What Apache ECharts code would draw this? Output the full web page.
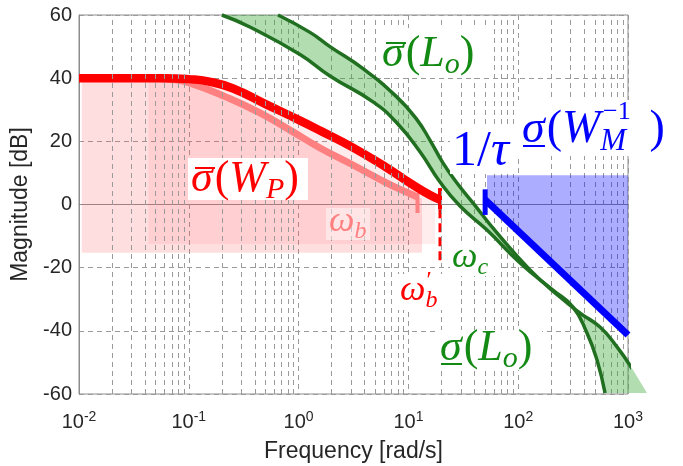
<!DOCTYPE html>
<html>
<head>
<meta charset="utf-8">
<title>Loop shaping bounds</title>
<script src="https://cdn.jsdelivr.net/npm/echarts@6.0.0/dist/echarts.min.js"></script>
<style>
  html, body { margin: 0; padding: 0; background: #fff; }
  #chart { width: 683px; height: 466px; }
</style>
</head>
<body>
<div id="chart"></div>
<script>
// performance weight, sigma-bar(W_P), bandwidth w'_b
const wpFreq = [0.01, 0.03, 0.06, 0.1, 0.15, 0.25, 0.5, 1.0, 1.57, 3.13, 6.38, 11.0, 15.7, 19.4];
const wpMag = [40, 40, 40, 39.7, 39, 36.8, 31.8, 26.8, 23.4, 18.0, 11.6, 6.2, 3.0, 1.5];
const wpEndFreq = [19.4, 19.4];
const wpEndMag = [5.2, -1.5];
const wpDashMag = [-1.5, -18.5];

// same weight at bandwidth w_b (lighter)
const wbFreq = [0.01, 0.04, 0.07, 0.1, 0.22, 0.445, 0.889, 1.57, 3.13, 6.38, 11.0, 12.1];
const wbMag = [40, 40, 39.6, 38.6, 34, 29, 23, 17.9, 12.5, 6.8, 3.0, 2.4];
const wbEndFreq = [12.1, 12.1];
const wbEndMag = [3.6, -2.7];

// pink shaded areas under the two weights
const shadeAFreq = [0.0106, 0.04, 0.07, 0.1, 0.22, 0.445, 0.889, 1.57, 3.13, 6.38, 11.0, 13.3];
const shadeAMag = [39.5, 39.5, 39.2, 38.4, 33.8, 28.8, 22.8, 17.7, 12.3, 6.6, 2.8, 2.0];
const shadeAFloor = -15.3;
const shadeBFreq = [0.043, 0.1, 0.15, 0.25, 0.5, 1.0, 1.57, 3.13, 6.38, 11.0, 15.7, 17.5];
const shadeBMag = [39.8, 39.5, 38.8, 36.6, 31.6, 26.6, 23.2, 17.8, 11.4, 6.0, 2.8, 2.2];
const shadeBFloor = -12.5;

// loop gain singular values
const loUpFreq = [0.649, 1.27, 1.93, 3.86, 7.87, 12.0, 15.7, 20.7, 27.7, 38.7, 64.1, 128, 240, 366, 556, 794, 1111, 1490];
const loUpMag = [60, 54.5, 50.0, 43.0, 34.0, 26.8, 20.4, 13.1, 6.8, 0.5, -9.0, -20.7, -29.3, -34.4, -38.8, -45.1, -52.4, -59.7];
const loLowFreq = [0.2, 0.36, 1.03, 1.93, 4.76, 7.87, 12.8, 19.4, 29.5, 52, 104, 207, 316, 423, 522, 618];
const loLowMag = [60, 56.2, 47.5, 40.7, 32.5, 25.8, 16.6, 7.1, -0.5, -8.1, -18.5, -27.1, -32.5, -40.7, -49.2, -59.7];

// uncertainty weight, sigma(W_M^-1)
const wmFreq = [50, 1000];
const wmMag = [1.5, -41.3];
const tauFreq = [50, 50];
const tauMag = [4.8, -3.3];
const wmShadeFreq = [52, 1000, 1000, 52];
const wmShadeMag = [9.3, 9.3, -41.3, 0.9];

// axes
const xTickExp = [-2, -1, 0, 1, 2, 3];
const yTicks = [-60, -40, -20, 0, 20, 40, 60];
const minorMult = [2, 3, 4, 5, 6, 7, 8, 9];

const SANS = "'Liberation Sans', Arial, sans-serif";
const SERIF = "'Liberation Serif', 'DejaVu Serif', serif";
const TXT = "#262626";
const GRID = { color: "#9a9a9a", width: 1, type: [5, 4] };
const GREEN_TXT = "#138a13";

const zip = (xs, ys) => xs.map((x, i) => [x, ys[i]]);

const minorLines = [];
xTickExp.slice(0, -1).forEach((e) => {
  minorMult.forEach((m) => minorLines.push({ xAxis: m * Math.pow(10, e) }));
});

function polygonSeries(points, fill, z) {
  return {
    type: "custom",
    z,
    clip: false,
    silent: true,
    data: [[1, 0]],
    renderItem: (params, api) => ({
      type: "polygon",
      shape: { points: points.map((p) => api.coord(p)) },
      style: { fill },
    }),
  };
}

function lineSeries(data, color, width, z, extra) {
  return Object.assign(
    {
      type: "line",
      data,
      z,
      clip: false,
      silent: true,
      symbol: "none",
      smooth: 0.5,
      lineStyle: { color, width },
    },
    extra || {}
  );
}

const shadeA = zip(shadeAFreq, shadeAMag).concat([
  [shadeAFreq[shadeAFreq.length - 1], shadeAFloor],
  [shadeAFreq[0], shadeAFloor],
]);
const shadeB = zip(shadeBFreq, shadeBMag).concat([
  [shadeBFreq[shadeBFreq.length - 1], shadeBFloor],
  [shadeBFreq[0], shadeBFloor],
]);
const band = zip(loUpFreq, loUpMag).concat(zip(loLowFreq, loLowMag).reverse());

function mathRich(size, color) {
  const base = { fontFamily: SERIF, fontSize: size, fill: color, color, lineHeight: Math.round(size * 1.2) };
  const sub = Math.round(size * 0.68);
  return {
    i: Object.assign({}, base, { fontStyle: "italic" }),
    r: Object.assign({}, base),
    g: Object.assign({}, base, { fontStyle: "italic", padding: [0, 2, 0, 0] }),
    s: { fontFamily: SERIF, fontStyle: "italic", fontSize: sub, fill: color, color, lineHeight: sub, verticalAlign: "bottom" },
    sp: { fontFamily: SERIF, fontSize: sub, lineHeight: sub, fill: color, color },
  };
}

function mathText(x, y, text, size, color) {
  return {
    type: "text",
    x,
    y,
    z: 110,
    silent: true,
    style: {
      text,
      rich: mathRich(size, color),
      fill: color,
      align: "left",
      textAlign: "left",
      verticalAlign: "middle",
      textVerticalAlign: "middle",
    },
  };
}

// small over/under bar drawn over a sigma glyph
function bar(x1, x2, y, color) {
  return {
    type: "line",
    z: 111,
    silent: true,
    shape: { x1, y1: y, x2, y2: y },
    style: { stroke: color, lineWidth: 2 },
  };
}

function box(x, y, w, h, fill) {
  return { type: "rect", z: 105, silent: true, shape: { x, y, width: w, height: h }, style: { fill: fill || "#fff" } };
}

const chart = echarts.init(document.getElementById("chart"), null, { renderer: "canvas" });

chart.setOption({
  animation: false,
  backgroundColor: "#fff",
  grid: {
    left: 79,
    right: 55,
    top: 15,
    bottom: 72,
    show: true,
    borderColor: "#8c8c8c",
    borderWidth: 1,
    outerBoundsMode: "none",
  },
  xAxis: {
    type: "log",
    logBase: 10,
    min: 0.01,
    max: 1000,
    splitNumber: 5,
    name: "Frequency [rad/s]",
    nameLocation: "middle",
    nameGap: 46,
    nameTextStyle: { fontSize: 23, color: TXT, fontFamily: SANS },
    axisLine: { lineStyle: { color: "#8c8c8c" } },
    axisTick: { show: false },
    splitLine: { show: true, lineStyle: GRID },
    axisLabel: {
      margin: 16,
      formatter: (v) => {
        const e = xTickExp.find((k) => Math.abs(Math.log10(v) - k) < 1e-6);
        return e === undefined ? "" : "{b|10}{s|" + e + "}";
      },
      rich: {
        b: { fontSize: 20, lineHeight: 24, color: TXT, fontFamily: SANS },
        s: { fontSize: 14, lineHeight: 14, color: TXT, fontFamily: SANS, verticalAlign: "top" },
      },
    },
  },
  yAxis: {
    type: "value",
    min: yTicks[0],
    max: yTicks[yTicks.length - 1],
    interval: 20,
    name: "Magnitude [dB]",
    nameLocation: "middle",
    nameGap: 46,
    nameTextStyle: { fontSize: 23, color: TXT, fontFamily: SANS },
    axisLine: { show: true, lineStyle: { color: "#8c8c8c" } },
    axisTick: { show: false },
    splitLine: { show: true, lineStyle: GRID },
    axisLabel: { margin: 7, fontSize: 20, color: TXT, fontFamily: SANS },
  },
  series: [
    {
      type: "line",
      data: [[1, 0]],
      symbol: "none",
      lineStyle: { opacity: 0 },
      z: 1,
      silent: true,
      markLine: {
        silent: true,
        symbol: "none",
        label: { show: false },
        lineStyle: GRID,
        emphasis: { disabled: true },
        data: minorLines,
      },
    },
    polygonSeries(shadeA, "rgba(255,80,90,0.19)", 2),
    polygonSeries(shadeB, "rgba(255,80,90,0.10)", 2),
    lineSeries(zip(wbFreq, wbMag), "#ff8080", 7, 3),
    lineSeries(zip(wbEndFreq, wbEndMag), "#ff8080", 4, 3, { smooth: false }),
    lineSeries(zip(wpFreq, wpMag), "#ff0000", 8.5, 4),
    lineSeries(zip(wpEndFreq, wpEndMag), "#ff0000", 4, 4, { smooth: false }),
    lineSeries(zip(wpEndFreq, wpDashMag), "#ff0000", 3, 4, {
      smooth: false,
      lineStyle: { color: "#ff0000", width: 3, type: [9, 5] },
    }),
    polygonSeries(band, "rgba(60,170,60,0.4)", 5),
    lineSeries(zip(loUpFreq, loUpMag), "#217021", 3.5, 6),
    lineSeries(zip(loLowFreq, loLowMag), "#217021", 3.5, 6),
    polygonSeries(zip(wmShadeFreq, wmShadeMag), "rgba(0,0,255,0.32)", 7),
    lineSeries(zip(wmFreq, wmMag), "#0000ff", 7, 8, { smooth: false }),
    lineSeries(zip(tauFreq, tauMag), "#0000ff", 5, 8, { smooth: false }),
  ],
  graphic: {
    elements: [
      box(378, 28, 108, 50),
      mathText(382, 54, "{g|σ}{r|(}{i|L}{s|o}{r|)}", 44, GREEN_TXT),
      bar(386, 406, 43, GREEN_TXT),
      box(188, 158, 120, 42),
      mathText(191, 179, "{g|σ}{r|(}{i|W}{s|P}{r|)}", 44, "#ff0000"),
      bar(195, 215, 168, "#ff0000"),
      box(326, 208, 44, 32, "rgba(255,255,255,0.45)"),
      mathText(329, 222, "{i|ω}{s|b}", 36, "#ff8080"),
      box(398, 274, 44, 36),
      mathText(400, 291, "{i|ω}{s|b}", 36, "#ff0000"),
      mathText(425, 281, "{i|′}", 24, "#ff0000"),
      box(450, 244, 48, 32),
      mathText(452, 258, "{i|ω}{s|c}", 36, GREEN_TXT),
      box(436, 330, 106, 40),
      mathText(440, 348, "{g|σ}{r|(}{i|L}{s|o}{r|)}", 44, GREEN_TXT),
      bar(441, 462, 364, GREEN_TXT),
      box(450, 128, 66, 46),
      mathText(452, 152, "{r|1/}{i|τ}", 50, "#0000ff"),
      box(518, 100, 148, 56),
      mathText(522, 130, "{g|σ}{r|(}{i|W}{s|M}{sp|   }{r|)}", 46, "#0000ff"),
      bar(523, 545, 146, "#0000ff"),
      mathText(603, 112, "{r|−1}", 26, "#0000ff"),
    ],
  },
});
</script>
</body>
</html>
